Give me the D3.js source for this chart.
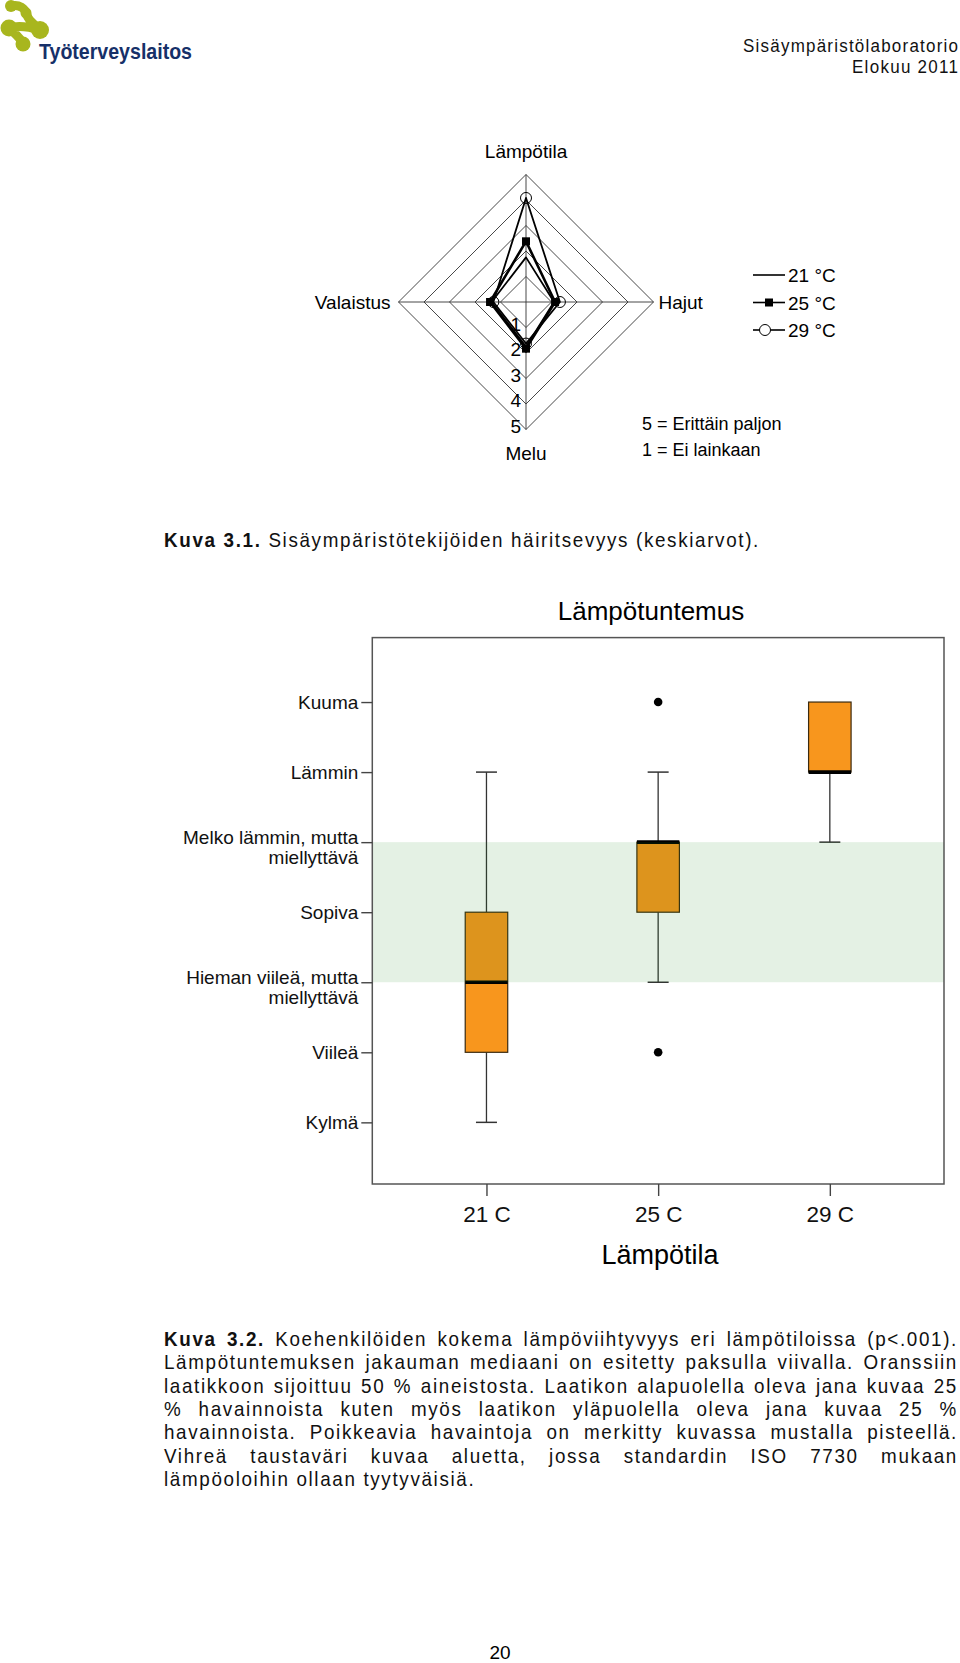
<!DOCTYPE html>
<html>
<head>
<meta charset="utf-8">
<script src="https://cdn.jsdelivr.net/npm/d3@7"></script>
<style>
  body { margin: 0; background: #fff; }
  svg { display: block; }
</style>
</head>
<body>
<script>
// ---- data ----
const headerLines = ["Sisäympäristölaboratorio", "Elokuu 2011"];

// radar (keskiarvot), clockwise from the top
const radarAxes = ["Lämpötila", "Hajut", "Melu", "Valaistus"];
const radarLevels = [1, 2, 3, 4, 5];
const radarNames = ["21 °C", "25 °C", "29 °C"];
const radar21 = [1.75, 1.10, 1.75, 1.35];
const radar25 = [2.38, 1.14, 1.83, 1.41];
const radar29 = [4.08, 1.33, 1.63, 1.28];
const radarNotes = ["5 = Erittäin paljon", "1 = Ei lainkaan"];

// boxplot (lämpötuntemus)
const boxTemps = ["21 C", "25 C", "29 C"];
const feelValues = [1, 2, 3, 4, 5, 6, 7];
const feelLabels = ["Kylmä", "Viileä", "Hieman viileä, mutta\nmiellyttävä", "Sopiva",
                    "Melko lämmin, mutta\nmiellyttävä", "Lämmin", "Kuuma"];
const whiskerMin = [1, 3, 5];
const boxQ1 = [2, 4, 6];
const boxMedian = [3, 5, 6];
const boxQ3 = [4, 5, 7];
const whiskerMax = [6, 6, 7];
const outliers = [[], [7, 2], []];
const comfortZone = [3, 5];

const caption1 = ["Kuva 3.1.", "Sisäympäristötekijöiden häiritsevyys (keskiarvot)."];
const caption2 = [
  "*Kuva *3.2. Koehenkilöiden kokema lämpöviihtyvyys eri lämpötiloissa (p<.001).",
  "Lämpötuntemuksen jakauman mediaani on esitetty paksulla viivalla. Oranssiin",
  "laatikkoon sijoittuu 50 % aineistosta. Laatikon alapuolella oleva jana kuvaa 25",
  "% havainnoista kuten myös laatikon yläpuolella oleva jana kuvaa 25 %",
  "havainnoista. Poikkeavia havaintoja on merkitty kuvassa mustalla pisteellä.",
  "Vihreä taustaväri kuvaa aluetta, jossa standardin ISO 7730 mukaan",
  "lämpöoloihin ollaan tyytyväisiä."
];
const pageNumber = "20";

var FONT = "'Liberation Sans', Arial, sans-serif";
// the page text is set in a slightly narrow face; squeeze Liberation Sans a bit
var SX = 0.92;

var W = 960, H = 1663;
var svg = d3.select("body").append("svg")
  .attr("width", W)
  .attr("height", H);

svg.append("rect").attr("width", W).attr("height", H).attr("fill", "#fff");

// ---- logo ----
var logo = svg.append("g");
var green = "#a8b61e";
[[11, 6, 6], [26, 13, 5.5], [40, 30, 9], [9, 28, 8.5], [23, 44, 7.5]].forEach(function(c){
  logo.append("circle").attr("cx", c[0]).attr("cy", c[1]).attr("r", c[2]).attr("fill", green);
});
logo.append("path")
  .attr("d", "M11,6 C19,4 25,8 27,15 C29,22 35,24 40,30 M40,30 C30,27 18,25 9,28 M9,28 C14,33 20,37 23,44")
  .attr("fill", "none").attr("stroke", green).attr("stroke-width", 9).attr("stroke-linecap", "round");
logo.append("text")
  .attr("x", 39).attr("y", 59)
  .attr("font-family", FONT).attr("font-size", 22).attr("font-weight", "bold")
  .attr("fill", "#163068")
  .attr("textLength", 153).attr("lengthAdjust", "spacingAndGlyphs")
  .text("Työterveyslaitos");

// ---- header on the right ----
svg.selectAll(".hdr")
  .data(headerLines)
  .enter().append("text")
  .attr("class", "hdr")
  .attr("transform", "scale(" + SX + ",1)")
  .attr("x", 958 / SX)
  .attr("y", (d, i) => 52 + i * 21.5)
  .attr("text-anchor", "end")
  .attr("font-family", FONT).attr("font-size", 18.5)
  .attr("fill", "#111")
  .attr("textLength", (d, i) => (i === 0 ? 215 : 106) / SX)
  .attr("lengthAdjust", "spacing")
  .text(d => d);

// ---- radar chart ----
var radar = svg.append("g").attr("transform", "translate(526,302)");
var rScale = d3.scaleLinear().domain([0, 5]).range([0, 127.5]);
function ang(i){ return -Math.PI / 2 + i * Math.PI / 2; }
function radarPoint(v, i){ return [rScale(v) * Math.cos(ang(i)), rScale(v) * Math.sin(ang(i))]; }
var radarLine = d3.line().curve(d3.curveLinearClosed);

radar.selectAll(".ring")
  .data(radarLevels)
  .enter().append("path")
  .attr("d", lv => radarLine(radarAxes.map((a, i) => radarPoint(lv, i))))
  .attr("fill", "none").attr("stroke", "#333").attr("stroke-width", 0.9);

radar.selectAll(".spoke")
  .data(radarAxes)
  .enter().append("line")
  .attr("x1", 0).attr("y1", 0)
  .attr("x2", (d, i) => radarPoint(5, i)[0])
  .attr("y2", (d, i) => radarPoint(5, i)[1])
  .attr("stroke", "#333").attr("stroke-width", 0.9);

// scale numbers along the bottom spoke
radar.selectAll(".lvl")
  .data(radarLevels)
  .enter().append("text")
  .attr("x", -5)
  .attr("y", d => rScale(d) + 3)
  .attr("text-anchor", "end")
  .attr("font-family", FONT).attr("font-size", 19)
  .text(d => d);

var series = [
  {name: radarNames[0], values: radar21, width: 1.8, marker: "none"},
  {name: radarNames[1], values: radar25, width: 2.6, marker: "square"},
  {name: radarNames[2], values: radar29, width: 1.8, marker: "circle"}
];

series.forEach(function(s){
  var pts = s.values.map((v, i) => radarPoint(v, i));
  radar.append("path")
    .attr("d", radarLine(pts))
    .attr("fill", "none").attr("stroke", "#000").attr("stroke-width", s.width)
    .attr("stroke-linejoin", "round");
});
series.forEach(function(s){
  var pts = s.values.map((v, i) => radarPoint(v, i));
  if (s.marker === "square") {
    radar.selectAll(null).data(pts).enter().append("rect")
      .attr("x", d => d[0] - 4).attr("y", d => d[1] - 4)
      .attr("width", 8).attr("height", 8).attr("fill", "#000");
  } else if (s.marker === "circle") {
    radar.selectAll(null).data(pts).enter().append("circle")
      .attr("cx", d => d[0]).attr("cy", d => d[1]).attr("r", 5.5)
      .attr("fill", "none").attr("stroke", "#000").attr("stroke-width", 1);
  }
});

// axis names
var axisPos = [
  {x: 0, y: -rScale(5) - 17, anchor: "middle"},
  {x: rScale(5) + 5, y: 7, anchor: "start"},
  {x: 0, y: rScale(5) + 30, anchor: "middle"},
  {x: -rScale(5) - 8, y: 7, anchor: "end"}
];
radar.selectAll(".axname")
  .data(radarAxes)
  .enter().append("text")
  .attr("x", (d, i) => axisPos[i].x)
  .attr("y", (d, i) => axisPos[i].y)
  .attr("text-anchor", (d, i) => axisPos[i].anchor)
  .attr("font-family", FONT).attr("font-size", 19)
  .text(d => d);

// legend
var leg = svg.append("g").attr("transform", "translate(753,275)");
series.forEach(function(s, i){
  var row = leg.append("g").attr("transform", "translate(0," + (i * 27.5) + ")");
  row.append("line").attr("x1", 0).attr("x2", 32).attr("stroke", "#000").attr("stroke-width", 1.6);
  if (s.marker === "square")
    row.append("rect").attr("x", 12).attr("y", -4).attr("width", 8).attr("height", 8).attr("fill", "#000");
  if (s.marker === "circle")
    row.append("circle").attr("cx", 12).attr("r", 5.5).attr("fill", "#fff").attr("stroke", "#000");
  row.append("text").attr("x", 35).attr("y", 7)
    .attr("font-family", FONT).attr("font-size", 19).text(s.name);
});

svg.selectAll(".note")
  .data(radarNotes)
  .enter().append("text")
  .attr("x", 642)
  .attr("y", (d, i) => 430 + i * 25.5)
  .attr("font-family", FONT).attr("font-size", 18)
  .text(d => d);

// ---- caption 3.1 ----
var FS = 20.5;
var capG = svg.append("g").attr("transform", "scale(" + SX + ",1)");
var cap1 = capG.append("text")
  .attr("x", 164 / SX).attr("y", 547)
  .attr("font-family", FONT).attr("font-size", FS).attr("fill", "#111");
cap1.append("tspan").attr("font-weight", "bold").text(caption1[0]);
cap1.append("tspan").text(" " + caption1[1]);
// letter spacing so the caption spans the same width as on the page
var natural = cap1.node().getComputedTextLength();
var nChars = (caption1[0] + " " + caption1[1]).length;
var LS = (596 / SX - natural) / nChars;
cap1.attr("letter-spacing", LS);

// ---- boxplot ----
var plot = {left: 372.3, right: 944, top: 637.6, bottom: 1184};
var yBox = d3.scaleLinear().domain([0.12, 7.92]).range([plot.bottom, plot.top]);
var xBox = d3.scalePoint().domain(boxTemps).range([plot.left, plot.right]).padding(0.665);
var boxW = 42.5, capW = 21;

svg.append("text")
  .attr("x", 651).attr("y", 620)
  .attr("text-anchor", "middle")
  .attr("font-family", FONT).attr("font-size", 26)
  .text("Lämpötuntemus");

var boxes = svg.append("g");
boxTemps.forEach(function(t, i){
  var cx = xBox(t);
  var g = boxes.append("g");
  if (whiskerMin[i] < boxQ1[i]) {
    g.append("line").attr("x1", cx).attr("x2", cx)
      .attr("y1", yBox(whiskerMin[i])).attr("y2", yBox(boxQ1[i]))
      .attr("stroke", "#333").attr("stroke-width", 1.3);
    g.append("line").attr("x1", cx - capW / 2).attr("x2", cx + capW / 2)
      .attr("y1", yBox(whiskerMin[i])).attr("y2", yBox(whiskerMin[i]))
      .attr("stroke", "#333").attr("stroke-width", 1.5);
  }
  if (whiskerMax[i] > boxQ3[i]) {
    g.append("line").attr("x1", cx).attr("x2", cx)
      .attr("y1", yBox(whiskerMax[i])).attr("y2", yBox(boxQ3[i]))
      .attr("stroke", "#333").attr("stroke-width", 1.3);
    g.append("line").attr("x1", cx - capW / 2).attr("x2", cx + capW / 2)
      .attr("y1", yBox(whiskerMax[i])).attr("y2", yBox(whiskerMax[i]))
      .attr("stroke", "#333").attr("stroke-width", 1.5);
  }
  g.append("rect")
    .attr("x", cx - boxW / 2).attr("width", boxW)
    .attr("y", yBox(boxQ3[i])).attr("height", yBox(boxQ1[i]) - yBox(boxQ3[i]))
    .attr("fill", "#f8961d").attr("stroke", "#3a2a10").attr("stroke-width", 1.2);
  g.append("line")
    .attr("x1", cx - boxW / 2).attr("x2", cx + boxW / 2)
    .attr("y1", yBox(boxMedian[i])).attr("y2", yBox(boxMedian[i]))
    .attr("stroke", "#000").attr("stroke-width", 3.6);
  g.selectAll(".out").data(outliers[i]).enter().append("circle")
    .attr("cx", cx).attr("cy", d => yBox(d)).attr("r", 4.3).attr("fill", "#000");
});

// comfort zone (ISO 7730), tinted on top of the boxes
svg.append("rect")
  .attr("x", plot.left).attr("width", plot.right - plot.left)
  .attr("y", yBox(comfortZone[1])).attr("height", yBox(comfortZone[0]) - yBox(comfortZone[1]))
  .attr("fill", "#228b22").attr("fill-opacity", 0.12);

svg.append("rect")
  .attr("x", plot.left).attr("y", plot.top)
  .attr("width", plot.right - plot.left).attr("height", plot.bottom - plot.top)
  .attr("fill", "none").attr("stroke", "#555").attr("stroke-width", 1.5);

var yAx = svg.append("g")
  .attr("transform", "translate(" + plot.left + ",0)")
  .call(d3.axisLeft(yBox).tickValues(feelValues).tickSize(11).tickPadding(3)
          .tickFormat((d, i) => feelLabels[i]));
yAx.select(".domain").remove();
yAx.attr("font-family", FONT).attr("font-size", 19);
yAx.selectAll("line").attr("stroke", "#444").attr("stroke-width", 1.4);
yAx.selectAll("text").attr("fill", "#111").each(function(d, i){
  var lines = feelLabels[i].split("\n");
  if (lines.length > 1) {
    var t = d3.select(this).text(null).attr("dy", null);
    lines.forEach(function(l, k){
      t.append("tspan").attr("x", -14).attr("y", k === 0 ? 1 : 21).text(l);
    });
  }
});

var xAx = svg.append("g")
  .attr("transform", "translate(0," + plot.bottom + ")")
  .call(d3.axisBottom(xBox).tickSize(12).tickPadding(10));
xAx.select(".domain").remove();
xAx.attr("font-family", FONT).attr("font-size", 22.5);
xAx.selectAll("line").attr("stroke", "#444").attr("stroke-width", 1.4);
xAx.selectAll("text").attr("fill", "#111");

svg.append("text")
  .attr("x", 660).attr("y", 1264)
  .attr("text-anchor", "middle")
  .attr("font-family", FONT).attr("font-size", 27)
  .text("Lämpötila");

// ---- caption 3.2, justified word by word ----
var capX0 = 164 / SX, capX1 = 958 / SX, capY0 = 1346, capStep = 23.35;
caption2.forEach(function(line, li){
  // "*Kuva *3.2." style marks bold words
  var words = line.split(" ").map(function(w){
    var bold = w.charAt(0) === "*";
    return {text: bold ? w.slice(1) : w, bold: bold};
  });
  var g = capG.append("g");
  var widths = words.map(function(w){
    var t = g.append("text")
      .attr("y", capY0 + li * capStep)
      .attr("font-family", FONT).attr("font-size", FS)
      .attr("font-weight", w.bold ? "bold" : null)
      .attr("letter-spacing", LS).attr("fill", "#111")
      .text(w.text);
    w.node = t;
    return t.node().getComputedTextLength();
  });
  var total = d3.sum(widths);
  var last = li === caption2.length - 1;
  var spaceW = FS * 0.278 + LS;
  var gap = last ? spaceW : (capX1 - capX0 - total) / (words.length - 1);
  var xx = capX0;
  words.forEach(function(w, k){
    w.node.attr("x", xx);
    xx += widths[k] + gap;
  });
});

// page number
svg.append("text")
  .attr("x", 500).attr("y", 1659)
  .attr("text-anchor", "middle")
  .attr("font-family", FONT).attr("font-size", 19)
  .text(pageNumber);
</script>
</body>
</html>
